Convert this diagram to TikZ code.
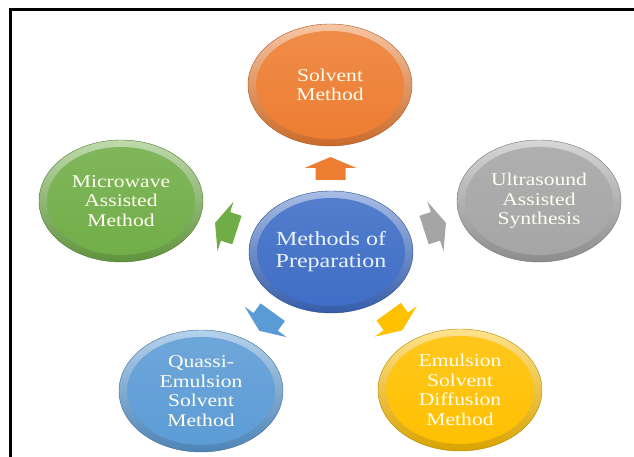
\documentclass[tikz,border=0pt]{standalone}
\usepackage{fontspec}
\usepackage{tikz}
\usetikzlibrary{calc, positioning, shapes}
\newfontfamily\bubblefont{Liberation Serif}[FakeStretch=1.2]
\definecolor{cOrange}{HTML}{ED7D31}
\definecolor{cBlue}{HTML}{3E6DC6}
\definecolor{cGray}{HTML}{A5A5A5}
\definecolor{cGreen}{HTML}{70AD47}
\definecolor{cSky}{HTML}{5B9BD5}
\definecolor{cGold}{HTML}{FFC000}
\tikzset{
  bubble/.style={ellipse, minimum width=164pt, minimum height=122pt, inner sep=0pt,
    align=center, text=white!94!yellow,
    font=\bubblefont\fontsize{18}{19.5}\selectfont,
    top color=#1!45!white, bottom color=#1!85!black, draw=#1!70!black, line width=0.4pt,
    path picture={\shade[top color=#1!88!white, bottom color=#1] (path picture bounding box.center) ellipse (74pt and 54pt);}},
  pics/radarrow/.style={code={
    \fill[#1] (-11.5,-15) -- (0.5,-15) -- (0.5,-26) -- (11.5,0) -- (0.5,26) -- (0.5,15) -- (-11.5,15) -- cycle;}}
}

\begin{document}
\begin{tikzpicture}[x=1pt, y=1pt]
  \useasboundingbox (0,0) rectangle (634,457);
  \draw[line width=3pt] (10.5,0) -- (10.5,447.5) -- (634,447.5);

  \node[bubble=cBlue, text=white!88!cSky, font=\bubblefont\fontsize{20}{22}\selectfont] (prep) at (331,205) {Methods of\\Preparation};
  \node[bubble=cOrange] (solv) at (330,372) {Solvent\\Method};
  \node[bubble=cGray] (ultra) at (539,256) {Ultrasound\\Assisted\\Synthesis};
  \node[bubble=cGreen] (micro) at (121,256) {Microwave\\Assisted\\Method};
  \node[bubble=cSky] (quassi) at (201,66) {Quassi-\\Emulsion\\Solvent\\Method};
  \node[bubble=cGold] (emul) at (460,67) {Emulsion\\Solvent\\Diffusion\\Method};

  % arrows between the centre and each method
  \pic[rotate=90] at ($(prep)!0.5!(solv)$) {radarrow=cOrange};
  \pic[rotate=18] at ($(prep)!0.5!(ultra)$) {radarrow=cGray};
  \pic[rotate=162] at ($(prep)!0.5!(micro)$) {radarrow=cGreen};
  \pic[rotate=234] at ($(prep)!0.5!(quassi)$) {radarrow=cSky};
  \pic[rotate=306] at ($(prep)!0.5!(emul)$) {radarrow=cGold};
\end{tikzpicture}
\end{document}
